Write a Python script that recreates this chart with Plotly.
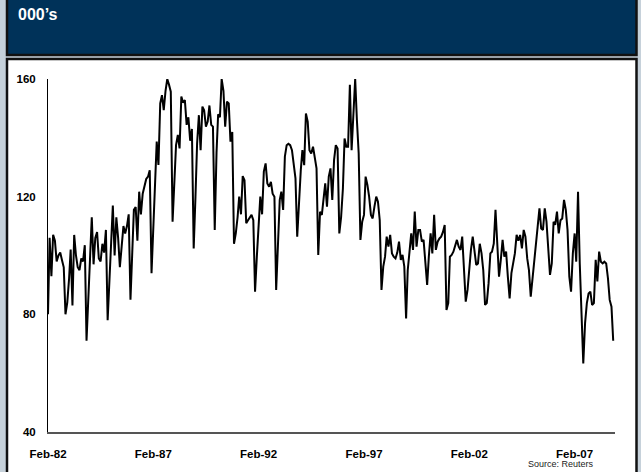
import pandas as pd
import plotly.graph_objects as go

# Monthly values (000's), Feb-1982 onward
seg_1982_1986 = [80, 106, 93, 107, 105, 98, 100, 101, 98.5, 96, 80, 84, 92, 102, 83, 107, 100,
                 96, 95, 99, 98, 103.5, 71, 86, 100, 113, 97, 106, 108, 99, 98, 104, 101, 108.7,
                 78, 90, 105, 117, 100, 113, 106, 96, 103, 110, 107.5, 110, 114, 85, 101, 115.5,
                 116.5, 105, 121.7]
seg_1986_1991 = [114, 121, 124, 126, 126.8, 129, 94, 110, 120, 138.7, 130.8, 151.7, 154.5, 149.4,
                 156, 160, 158, 155.7, 111.5, 128, 137.5, 141, 136.4, 154, 152, 152.8, 144.4, 147,
                 139, 143, 102.4, 120, 138, 147.7, 135.8, 150.6, 149.4, 143.8, 145.5, 151, 144.4,
                 143.8, 108.7, 135, 148, 147, 160, 156, 143.8, 152.3, 151.7, 138.7, 142, 104]
seg_1991_1995 = [107.5, 113, 120, 114, 127, 125.6, 111, 112, 113, 113.8, 112, 87.7, 99.6, 110, 120,
                 114, 128.5, 131.3, 124.5, 123.4, 125, 121, 120, 88.3, 106.4, 118.9, 121.7, 115.5,
                 133.6, 137.5, 138, 137.5, 135.8, 131.9, 126.2, 106.4, 119.4, 129, 135.8, 130.7, 148.3,
                 145.5, 135.8, 134.7, 137, 133, 129.6, 100.2, 114.9, 113.8, 120, 124.5, 116.6, 126.8,
                 129.6]
seg_1995_2000 = [118.9, 132.5, 137.5, 136.4, 107.5, 113, 122.7, 139.8, 137, 137, 158, 135.8, 150.6,
                 160, 146, 134.7, 105.3, 111.5, 113.8, 126.8, 124, 120, 113.8, 112.6, 116.6, 120,
                 118.3, 112, 88.3, 96.2, 99.6, 106.4, 103, 107, 100.7, 99.6, 99, 101, 104.7, 98.5,
                 100.2, 96.2, 78.6, 95, 101.3, 107.5, 101.9, 114.9, 103, 108.7, 108.7, 104.7, 105.3,
                 97.3, 90]
seg_2000_2004 = [99.6, 107.5, 100.7, 113.8, 101.9, 104.7, 105.8, 106.4, 108, 110.4, 81.5, 83.8, 99.6,
                 100.2, 101.3, 103, 105.3, 103, 101.9, 106.4, 96.2, 84.3, 88.3, 96.2, 101.9, 106.4,
                 100.7, 96.8, 97.3, 104, 100.7, 95, 83.2, 83.8, 90.6, 100.7, 101.3, 104, 115.5, 101.9,
                 92.8, 98.5, 105.3, 99.6, 101.3, 92.8, 85.4, 94, 96.8, 100.7, 107, 105, 107, 102.4]
seg_2004_2008 = [108.7, 106.4, 99, 95, 86, 91.7, 97.3, 101.9, 109.8, 116, 109.2, 108.7, 116,
                 111.5, 101.9, 93.4, 97.3, 111.5, 110.4, 114.9, 107.5, 112, 112.6, 118.9, 115.5,
                 108.7, 92.8, 87.7, 100.7, 107.5, 97.9, 121.7, 97.3, 82.6, 63.3, 77, 83.8, 87.1,
                 87.7, 83.2, 83.8, 98.5, 91.2, 101.3, 97.9, 97.3, 97.9, 97.3, 92.2, 84.9, 82.6, 71]

values = seg_1982_1986 + seg_1986_1991 + seg_1991_1995 + seg_1995_2000 + seg_2000_2004 + seg_2004_2008
dates = pd.date_range("1982-02-01", periods=len(values), freq="MS")

tick_dates = ["1982-02-01", "1987-02-01", "1992-02-01", "1997-02-01", "2002-02-01", "2007-02-01"]
tick_text = ["Feb-82", "Feb-87", "Feb-92", "Feb-97", "Feb-02", "Feb-07"]
y_ticks = [40, 80, 120, 160]

title_text = "000\u2019s"
source_text = "Source: Reuters"

W, H = 641, 472
ML, MR, MT, MB = 48, 26, 79, 40
PW, PH = W - ML - MR, H - MT - MB


def px(x):
    return (x - ML) / PW


def py(y):
    return (H - MB - y) / PH


FONT = "Liberation Sans, Arial, sans-serif"

fig = go.Figure()
fig.add_trace(go.Scatter(x=dates, y=values, mode="lines",
                         line=dict(color="#000000", width=2), hoverinfo="skip"))

shapes = [
    # header band
    dict(type="rect", xref="paper", yref="paper", layer="below",
         x0=px(7), x1=px(636.5), y0=py(55), y1=py(-5),
         fillcolor="#003259", line=dict(color="#111111", width=2.5)),
    # white chart panel
    dict(type="rect", xref="paper", yref="paper", layer="below",
         x0=px(7), x1=px(636.5), y0=py(480), y1=py(59),
         fillcolor="#ffffff", line=dict(color="#111111", width=2.5)),
]

annotations = [
    dict(text=f"<b>{title_text}</b>", xref="paper", yref="paper",
         x=px(16), y=py(15), xanchor="left", yanchor="middle", showarrow=False,
         font=dict(family=FONT, size=16, color="#ffffff")),
    dict(text=source_text, xref="paper", yref="paper",
         x=px(596), y=py(464), xanchor="right", yanchor="middle", showarrow=False,
         font=dict(family=FONT, size=9, color="#222222")),
]

fig.update_layout(
    width=W, height=H,
    margin=dict(l=ML, r=MR, t=MT, b=MB, pad=0),
    paper_bgcolor="#c6d1da",
    plot_bgcolor="rgba(0,0,0,0)",
    showlegend=False,
    shapes=shapes,
    annotations=annotations,
    font=dict(family=FONT, color="#000000"),
    xaxis=dict(
        type="date",
        range=["1982-02-01", "2009-01-01"],
        tickvals=tick_dates, ticktext=tick_text,
        tickfont=dict(family=FONT, size=11.5, color="#000000", weight="bold"),
        showgrid=False, zeroline=False,
        showline=True, linecolor="#555555", linewidth=2,
        ticks="outside", ticklen=10, tickcolor="rgba(0,0,0,0)",
    ),
    yaxis=dict(
        range=[40, 160],
        tickvals=y_ticks,
        tickfont=dict(family=FONT, size=11.5, color="#000000", weight="bold"),
        showgrid=False, zeroline=False,
        showline=True, linecolor="#000000", linewidth=1,
        ticks="outside", ticklen=9, tickcolor="rgba(0,0,0,0)",
    ),
)

fig.write_html("out.html")
